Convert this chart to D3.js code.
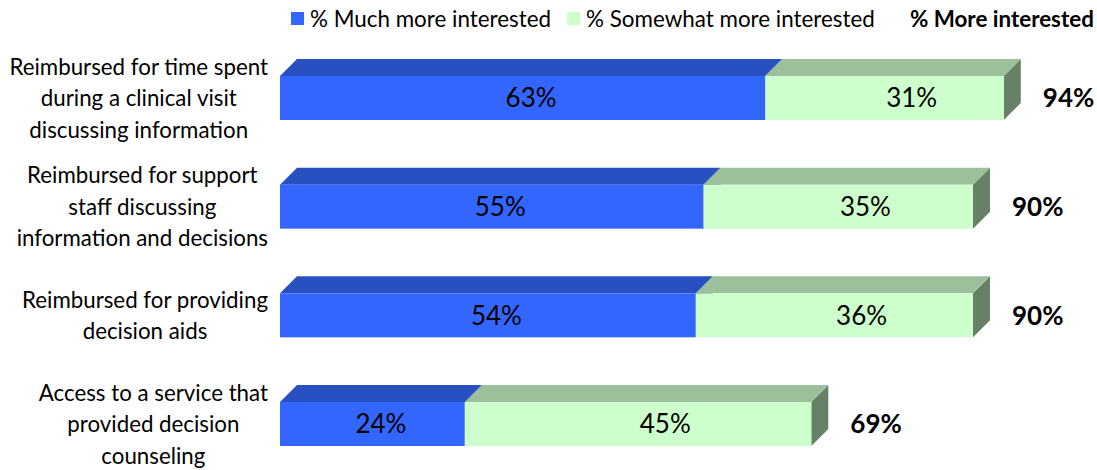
<!DOCTYPE html>
<html><head><meta charset="utf-8">
<script src="https://cdn.jsdelivr.net/npm/d3@7"></script>
<style>body{margin:0;background:#fff}svg{display:block}text{font-family:Lato,"Open Sans",sans-serif}</style>
</head><body><svg id="c" width="1097" height="470"></svg>
<script>
const categories = [
  ["Reimbursed for time spent","during a clinical visit","discussing information"],
  ["Reimbursed for support","staff discussing","information and decisions"],
  ["Reimbursed for providing","decision aids"],
  ["Access to a service that","provided decision","counseling"]
];
const muchMore = [63, 55, 54, 24];
const somewhatMore = [31, 35, 36, 45];
const moreInterested = [94, 90, 90, 69];
const seriesNames = ["% Much more interested", "% Somewhat more interested", "% More interested"];

const colors = {
  much: {front:"#3366FF", top:"#2850C0", side:"#1f3f99"},
  some: {front:"#CCFFCC", top:"#9CBF9C", side:"#678166"}
};

const svg = d3.select("#c");
const depth = 17;
const x = d3.scaleLinear().domain([0,100]).range([280,1050]);
const y = d3.scaleBand().domain(d3.range(categories.length)).range([76,446]).paddingInner(0.595).paddingOuter(0);

const g = svg.append("g");
function drawBox(x0, x1, yt, h, c){
  const b = g.append("g");
  b.append("polygon").attr("points", [[x1,yt],[x1+depth,yt-depth],[x1+depth,yt+h-depth],[x1,yt+h]].join(" ")).attr("fill", c.side);
  b.append("polygon").attr("points", [[x0,yt],[x0+depth,yt-depth],[x1+depth,yt-depth],[x1,yt]].join(" ")).attr("fill", c.top);
  b.append("rect").attr("x", x0).attr("y", yt).attr("width", x1-x0).attr("height", h).attr("fill", c.front);
}
categories.forEach((cat,i)=>{
  const yt = y(i), h = y.bandwidth();
  drawBox(x(0), x(muchMore[i]), yt, h, colors.much);
  drawBox(x(muchMore[i]), x(muchMore[i]+somewhatMore[i]), yt, h, colors.some);
  const cy = yt + h/2;
  g.append("text").attr("x", (x(0)+x(muchMore[i]))/2 + depth/2).attr("y", cy).attr("dy","0.36em")
    .attr("text-anchor","middle").attr("font-size",26).attr("fill","#000").text(muchMore[i]+"%");
  g.append("text").attr("x", (x(muchMore[i])+x(muchMore[i]+somewhatMore[i]))/2 + depth*1.6).attr("y", cy).attr("dy","0.36em")
    .attr("text-anchor","middle").attr("font-size",26).attr("fill","#000").text(somewhatMore[i]+"%");
  g.append("text").attr("x", x(moreInterested[i]) + depth + 22).attr("y", cy).attr("dy","0.36em")
    .attr("font-size",26).attr("font-weight","bold").attr("fill","#000").text(moreInterested[i]+"%");
  const lh = 31.5;
  const lg = svg.append("g");
  const texts = cat.map((line,k)=> lg.append("text").attr("y", cy + (k-(cat.length-1)/2)*lh).attr("dy","0.36em")
    .attr("font-size",22.3).attr("text-anchor","middle").attr("fill","#000").text(line));
  const maxW = d3.max(texts, t=>t.node().getComputedTextLength());
  texts.forEach(t=>t.attr("x", 268 - maxW/2));
});

const leg = svg.append("g");
let lx = 291;
const legColors = [colors.much.front, colors.some.front, null];
seriesNames.forEach((name,i)=>{
  if (legColors[i]) leg.append("rect").attr("x", lx).attr("y", 12).attr("width", 13).attr("height", 13).attr("fill", legColors[i]);
  const t = leg.append("text").attr("x", lx+19).attr("y", 19).attr("dy","0.36em").attr("font-size",22.4)
    .attr("font-weight", i===2?"bold":"normal").attr("fill","#000").text(name);
  lx += 19 + t.node().getComputedTextLength() + 16;
});
</script></body></html>
